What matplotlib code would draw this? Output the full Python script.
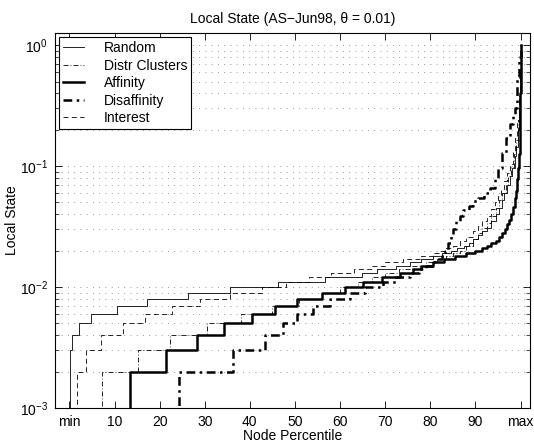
import numpy as np
import matplotlib
matplotlib.use('Agg')
from matplotlib import pyplot as plt
from matplotlib.ticker import LogLocator, FixedLocator, FixedFormatter, NullFormatter

plt.rcParams['font.family'] = ['Liberation Sans', 'DejaVu Sans']
plt.rcParams['mathtext.fontset'] = 'custom'
plt.rcParams['mathtext.rm'] = 'Liberation Sans'
plt.rcParams['mathtext.default'] = 'regular'

# node percentile (0 = min, 100 = max) where each curve steps up, and local state (x 1e-3)
rand_p = [0, 0.2, 0.5, 2.1, 4.8, 10.5, 17.3, 26.2, 35.7, 46.2, 56.7, 64.8, 68.1, 72.5, 75.5, 78, 80.5,
          82.5, 84.5, 86, 87.5, 88.5, 89.5, 90.5, 91.5, 92.5, 93.5, 94.5, 95.2, 95.8, 96.4, 97, 97.6,
          98.2, 98.7, 99.1, 99.4, 99.7, 99.85, 100]
rand_v = [0, 3, 4, 5, 6, 7, 8, 9, 10, 11, 12, 13, 14, 15, 16, 17, 18,
          19, 20, 21, 22, 23, 25, 27, 29, 31, 35, 40, 45, 52, 60, 70, 82,
          96, 120, 145, 200, 300, 450, 1000]

distr_p = [0, 7.3, 15.3, 22.3, 30.4, 38, 45, 51, 56, 60, 64, 67, 70, 73, 76, 79, 81.5, 83.5, 85,
           86.5, 88, 89.5, 90.5, 91.5, 92.5, 93.5, 94.5, 95.3, 96, 96.7, 97.3, 97.9, 98.5, 99,
           99.4, 99.7, 99.9, 100]
distr_v = [0, 2, 3, 4, 5, 6, 7, 8, 9, 10, 11, 12, 13, 14, 15, 16, 17, 18, 19,
           20, 22, 25, 28, 31, 34, 39, 45, 52, 60, 70, 82, 98, 125, 165,
           240, 380, 600, 1000]

aff_p = [0, 13.4, 21.3, 28.2, 34.3, 40.4, 45.6, 50.4, 55.9, 61.1, 65.1, 69.4, 73.3, 76.2, 78,
         80.5, 83, 85.5, 88, 90, 91.5, 92.5, 93.5, 94.5, 95.3, 96, 96.6, 97.1, 97.5, 97.9, 98.3,
         98.7, 99, 99.3, 99.5, 99.7, 99.85, 99.95, 100]
aff_v = [0, 2, 3, 4, 5, 6, 7, 8, 9, 10, 11, 12, 13, 14, 15,
         16, 17, 18, 19, 20, 21, 22, 23, 24, 26, 28, 30, 33, 36, 40, 46,
         54, 62, 78, 96, 125, 200, 400, 1000]

disaff_p = [0, 24.3, 36.3, 43.3, 47.3, 50.4, 54, 57.8, 62.2, 65.5, 69.6, 72.5, 75.5, 77.5, 79,
            80.5, 81.5, 82.5, 83.3, 84, 84.6, 85.1, 85.8, 86.6, 87.3, 88.5, 89.5, 90.6, 92, 93.2,
            94.3, 95.1, 95.8, 96.8, 97.7, 98.3, 98.8, 99.3, 99.7, 100]
disaff_v = [0, 2, 3, 4, 5, 6, 7, 8, 9, 10, 11, 12, 13, 14, 15,
            16, 17, 18, 20, 23, 27, 30, 35, 39, 43, 47, 51, 54, 60, 66,
            78, 96, 128, 170, 221, 265, 304, 540, 800, 1000]

inter_p = [0, 1.6, 3.6, 7.1, 11.9, 16.7, 22.7, 28.9, 35.6, 42.6, 48, 53, 58, 63, 67, 70, 74,
           78, 80.5, 82, 83.5, 85, 86.5, 88, 89.5, 90.5, 91.5, 92.5, 93.5, 94.3, 95, 95.7, 96.4,
           97, 97.7, 98.3, 98.8, 99.2, 99.6, 99.85, 100]
inter_v = [0, 2, 3, 4, 5, 6, 7, 8, 9, 10, 11, 12, 13, 14, 15, 16, 17,
           18, 19, 20, 21, 22, 24, 26, 29, 32, 35, 39, 44, 50, 57, 65, 75,
           88, 105, 130, 170, 240, 380, 600, 1000]

xtick_pos = [0, 10, 20, 30, 40, 50, 60, 70, 80, 90, 100]
xtick_lab = ['min', '10', '20', '30', '40', '50', '60', '70', '80', '90', 'max']

fig = plt.figure(figsize=(5.34, 4.45), dpi=100)
ax = fig.add_axes([55/534, 37/445, 475/534, 375/445])

ax.plot(rand_p, np.array(rand_v)/1000., color='k', lw=0.6, ls='-',
        drawstyle='steps-post', label='Random')
ax.plot(distr_p, np.array(distr_v)/1000., color='k', lw=0.6, ls=(0, (6, 2.5, 1, 2.5)),
        drawstyle='steps-post', label='Distr Clusters')
ax.plot(aff_p, np.array(aff_v)/1000., color='k', lw=1.8, ls='-',
        drawstyle='steps-post', label='Affinity')
ax.plot(disaff_p, np.array(disaff_v)/1000., color='k', lw=1.8, ls=(0, (3.5, 1.8, 1, 1.8)),
        drawstyle='steps-post', label='Disaffinity')
ax.plot(inter_p, np.array(inter_v)/1000., color='k', lw=0.6, ls=(0, (6, 4)),
        drawstyle='steps-post', label='Interest')

ax.set_yscale('log')
ax.set_xlim(-3.2, 102.1)
ax.set_ylim(1e-3, 10**0.1)

ax.xaxis.set_major_locator(FixedLocator(xtick_pos))
ax.xaxis.set_major_formatter(FixedFormatter(xtick_lab))
ax.yaxis.set_major_locator(LogLocator(base=10, numticks=10))
ax.yaxis.set_minor_locator(LogLocator(base=10, subs=np.arange(2, 10), numticks=10))
ax.yaxis.set_minor_formatter(NullFormatter())

ax.tick_params(which='both', direction='in', top=True, right=True, labelsize=10, pad=5)
ax.tick_params(which='major', length=5, width=0.6)
ax.tick_params(which='minor', length=3, width=0.5)
ax.tick_params(axis='x', which='minor', bottom=False, top=False)

ax.yaxis.grid(True, which='both', color='0.45', lw=0.6, ls=(0, (1, 6.5)))
ax.xaxis.grid(False)
ax.set_axisbelow(True)
for s in ax.spines.values():
    s.set_linewidth(0.8)

ax.set_title('Local State (AS\u2212Jun98, \u03b8 = 0.01)', fontsize=10, pad=7)
ax.set_xlabel('Node Percentile', fontsize=10, labelpad=0)
ax.set_ylabel('Local State', fontsize=10, labelpad=1)

leg = ax.legend(loc='upper left', fontsize=10, fancybox=False, framealpha=1, edgecolor='k',
                borderaxespad=0.3, handlelength=1.5, handletextpad=1.4, labelspacing=0.25,
                borderpad=0.3)
leg.get_frame().set_linewidth(0.8)

fig.savefig('out.png', dpi=100)
